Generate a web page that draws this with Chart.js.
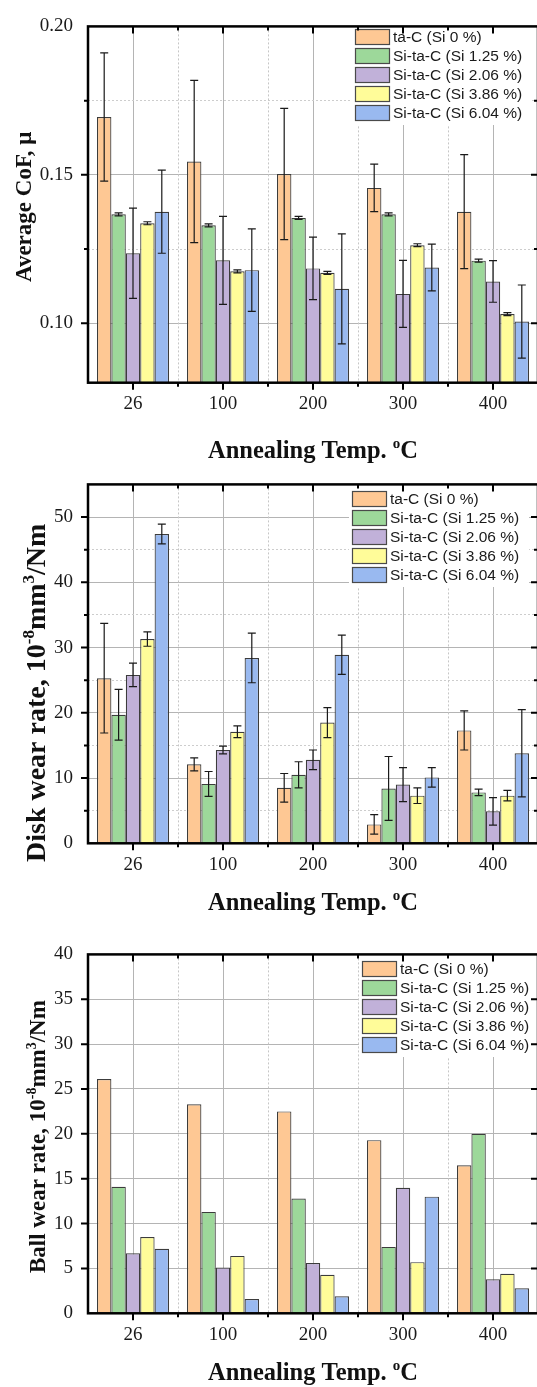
<!DOCTYPE html>
<html>
<head>
<meta charset="utf-8">
<script src="https://cdn.jsdelivr.net/npm/chart.js@4.4.1/dist/chart.umd.min.js"></script>
<style>
html, body { margin: 0; padding: 0; background: #fff; overflow: hidden; width: 537px; height: 1387px; }
canvas { position: absolute; left: 0; }
</style>
</head>
<body>
<canvas id="cof" width="545" height="468" style="top:0px"></canvas>
<canvas id="disk" width="545" height="462" style="top:458px"></canvas>
<canvas id="ball" width="545" height="459" style="top:928px"></canvas>
<script>
// annealing temperatures (x categories)
const temps = ['26', '100', '200', '300', '400'];
const seriesNames = ['ta-C (Si 0 %)', 'Si-ta-C (Si 1.25 %)', 'Si-ta-C (Si 2.06 %)', 'Si-ta-C (Si 3.86 %)', 'Si-ta-C (Si 6.04 %)'];
const colors = ['#FEC894', '#9DD89A', '#C1B1D9', '#FFFC99', '#99B9F0'];

// average CoF
const cofSi0 = [0.1695, 0.1545, 0.1503, 0.1456, 0.1376];
const cofSi125 = [0.1367, 0.1330, 0.1355, 0.1367, 0.1211];
const cofSi206 = [0.1236, 0.1212, 0.1185, 0.1099, 0.1141];
const cofSi386 = [0.1337, 0.1175, 0.1170, 0.1263, 0.1031];
const cofSi604 = [0.1376, 0.1179, 0.1116, 0.1188, 0.1006];
const cofErrSi0 = [0.0216, 0.0273, 0.0221, 0.0080, 0.0192];
const cofErrSi125 = [0.0005, 0.0005, 0.0005, 0.0005, 0.0005];
const cofErrSi206 = [0.0152, 0.0148, 0.0105, 0.0113, 0.0070];
const cofErrSi386 = [0.0005, 0.0005, 0.0005, 0.0005, 0.0005];
const cofErrSi604 = [0.0140, 0.0139, 0.0185, 0.0079, 0.0123];

// disk wear rate
const diskSi0 = [25.3, 12.1, 8.5, 2.9, 17.3];
const diskSi125 = [19.7, 9.1, 10.5, 8.4, 7.8];
const diskSi206 = [25.8, 14.3, 12.8, 9.0, 4.9];
const diskSi386 = [31.3, 17.1, 18.5, 7.3, 7.3];
const diskSi604 = [47.4, 28.4, 28.9, 10.1, 13.8];
const diskErrSi0 = [8.4, 1.0, 2.2, 1.5, 3.0];
const diskErrSi125 = [3.9, 1.9, 2.0, 4.9, 0.5];
const diskErrSi206 = [1.8, 0.6, 1.5, 2.6, 2.1];
const diskErrSi386 = [1.1, 0.9, 2.3, 1.2, 0.8];
const diskErrSi604 = [1.5, 3.8, 3.0, 1.5, 6.7];

// ball wear rate
const ballSi0 = [26.1, 23.3, 22.5, 19.3, 16.5];
const ballSi125 = [14.1, 11.3, 12.8, 7.4, 20.0];
const ballSi206 = [6.7, 5.1, 5.6, 14.0, 3.8];
const ballSi386 = [8.5, 6.4, 4.3, 5.7, 4.4];
const ballSi604 = [7.2, 1.6, 1.9, 13.0, 2.8];

const serif = '"Liberation Serif", "Times New Roman", serif';
const sans = '"Liberation Sans", Arial, sans-serif';

function isMult(v, step) {
  const r = v / step;
  return Math.abs(r - Math.round(r)) < 1e-6;
}

// rich text: parts = [[text, isSuperscript]]
function drawRich(ctx, parts, size, x, y, rotate, align) {
  ctx.save();
  ctx.translate(x, y);
  if (rotate) ctx.rotate(-Math.PI / 2);
  ctx.textBaseline = 'alphabetic';
  ctx.textAlign = 'left';
  ctx.fillStyle = '#111';
  let total = 0;
  const ws = parts.map(p => {
    ctx.font = 'bold ' + (p[1] ? Math.round(size * 0.62) : size) + 'px ' + serif;
    const w = ctx.measureText(p[0]).width;
    total += w;
    return w;
  });
  let cx = align == 'center' ? -total / 2 : 0;
  parts.forEach((p, i) => {
    ctx.font = 'bold ' + (p[1] ? Math.round(size * 0.62) : size) + 'px ' + serif;
    ctx.fillText(p[0], cx, p[1] ? -size * 0.4 : 0);
    cx += ws[i];
  });
  ctx.restore();
}

const deco = {
  id: 'deco',
  beforeDatasetsDraw(chart, args, o) {
    const ctx = chart.ctx, a = chart.chartArea, xs = chart.scales.x;
    ctx.save();
    ctx.strokeStyle = '#c6c6c6';
    ctx.lineWidth = 1;
    ctx.setLineDash([2, 2]);
    for (let i = 0; i < temps.length - 1; i++) {
      const px = Math.round((xs.getPixelForValue(i) + xs.getPixelForValue(i + 1)) / 2) + 0.5;
      ctx.beginPath();
      ctx.moveTo(px, a.top);
      ctx.lineTo(px, a.bottom);
      ctx.stroke();
    }
    ctx.restore();
  },
  afterDatasetsDraw(chart, args, o) {
    const ctx = chart.ctx, a = chart.chartArea, xs = chart.scales.x, ys = chart.scales.y;
    // error bars
    if (o.errs) {
      ctx.save();
      ctx.strokeStyle = '#1a1a1a';
      ctx.lineWidth = 1.2;
      o.errs.forEach((err, i) => {
        const meta = chart.getDatasetMeta(i);
        meta.data.forEach((bar, j) => {
          const v = chart.data.datasets[i].data[j];
          const y1 = ys.getPixelForValue(v + err[j]);
          const y2 = ys.getPixelForValue(v - err[j]);
          ctx.beginPath();
          ctx.moveTo(bar.x, y1); ctx.lineTo(bar.x, y2);
          ctx.moveTo(bar.x - 4, y1); ctx.lineTo(bar.x + 4, y1);
          ctx.moveTo(bar.x - 4, y2); ctx.lineTo(bar.x + 4, y2);
          ctx.stroke();
        });
      });
      ctx.restore();
    }
    // legend inside the plot
    const lg = o.legend;
    ctx.save();
    ctx.fillStyle = '#fff';
    ctx.fillRect(lg.box[0], lg.box[1], lg.box[2], lg.box[3]);
    ctx.font = '15.5px ' + sans;
    ctx.textBaseline = 'middle';
    chart.data.datasets.forEach((ds, i) => {
      const top = lg.y + i * 19;
      ctx.fillStyle = ds.backgroundColor;
      ctx.fillRect(lg.x, top, 35, 16);
      ctx.strokeStyle = '#4a4a4a';
      ctx.lineWidth = 1.2;
      ctx.strokeRect(lg.x + 0.5, top + 0.5, 34, 15);
      ctx.fillStyle = '#1a1a1a';
      ctx.fillText(ds.label, lg.textX, top + 9);
    });
    ctx.restore();
    // frame and ticks
    ctx.save();
    ctx.strokeStyle = '#000';
    ctx.lineWidth = 2;
    ys.ticks.forEach(t => {
      if (t.value <= ys.min || t.value >= ys.max) return;
      const py = ys.getPixelForValue(t.value);
      const len = isMult(t.value, o.major) ? 7 : 4;
      ctx.beginPath();
      ctx.moveTo(a.left - len, py); ctx.lineTo(a.left, py);
      ctx.moveTo(a.right - len, py); ctx.lineTo(a.right, py);
      ctx.stroke();
    });
    for (let i = 0; i < temps.length; i++) {
      const px = xs.getPixelForValue(i);
      ctx.beginPath();
      ctx.moveTo(px, a.bottom); ctx.lineTo(px, a.bottom + 7);
      ctx.moveTo(px, a.top); ctx.lineTo(px, a.top + 7);
      if (i < temps.length - 1) {
        const pb = (px + xs.getPixelForValue(i + 1)) / 2;
        ctx.moveTo(pb, a.bottom); ctx.lineTo(pb, a.bottom + 4);
        ctx.moveTo(pb, a.top); ctx.lineTo(pb, a.top + 4);
      }
      ctx.stroke();
    }
    ctx.lineWidth = 2.5;
    ctx.strokeRect(a.left, a.top, a.right - a.left, a.bottom - a.top);
    ctx.restore();
    // axis titles
    drawRich(ctx, o.ytitle, o.ysize, o.yx, o.yy, true, 'left');
    drawRich(ctx, [['Annealing Temp. '], ['o', 1], ['C']], 24.5, (a.left + a.right) / 2, o.xy, false, 'center');
  }
};

function makeChart(id, means, errs, yMin, yMax, step, major, digits, d) {
  const el = document.getElementById(id);
  return new Chart(el, {
    type: 'bar',
    data: {
      labels: temps,
      datasets: means.map((m, i) => ({
        label: seriesNames[i],
        data: m,
        backgroundColor: colors[i],
        borderColor: '#3c3c3c',
        borderWidth: 1.2,
        categoryPercentage: 0.8,
        barPercentage: 1.0
      }))
    },
    options: {
      responsive: false,
      animation: false,
      devicePixelRatio: 1,
      layout: { padding: { left: 0, right: el.width - 538, top: d.top, bottom: 0 } },
      plugins: {
        legend: { display: false },
        tooltip: { enabled: false },
        deco: Object.assign({ errs: errs, major: major }, d)
      },
      scales: {
        x: {
          grid: { offset: false, color: '#b4b4b4', lineWidth: 1, drawTicks: false },
          border: { display: false },
          ticks: { padding: 10, color: '#1a1a1a', font: { family: serif, size: 19 } },
          afterFit: s => { s.height = el.height - d.bottom; }
        },
        y: {
          min: yMin,
          max: yMax,
          grid: {
            drawTicks: false,
            lineWidth: 1,
            color: c => {
              const v = c.tick ? c.tick.value : 0;
              if (v <= yMin || v >= yMax) return 'rgba(0,0,0,0)';
              return isMult(v, major) ? '#b4b4b4' : '#cdcdcd';
            }
          },
          border: {
            display: false,
            dash: c => (c.tick && !isMult(c.tick.value, major)) ? [2, 2] : []
          },
          ticks: {
            stepSize: step,
            padding: 15,
            color: '#1a1a1a',
            font: { family: serif, size: 19 },
            callback: v => (isMult(v, major) && (v > yMin + 1e-9 || yMin == 0)) ? v.toFixed(digits) : ''
          },
          afterFit: s => { s.width = 88; }
        }
      }
    },
    plugins: [deco]
  });
}

makeChart('cof',
  [cofSi0, cofSi125, cofSi206, cofSi386, cofSi604],
  [cofErrSi0, cofErrSi125, cofErrSi206, cofErrSi386, cofErrSi604],
  0.08, 0.20, 0.025, 0.05, 2,
  { top: 21.7, bottom: 382.7, legend: { x: 355, y: 29, textX: 393, box: [352, 26, 178, 99] },
    ytitle: [['Average CoF, μ']], ysize: 23, yx: 31, yy: 282, xy: 458 });

makeChart('disk',
  [diskSi0, diskSi125, diskSi206, diskSi386, diskSi604],
  [diskErrSi0, diskErrSi125, diskErrSi206, diskErrSi386, diskErrSi604],
  0, 55, 5, 10, 0,
  { top: 21.3, bottom: 385.3, legend: { x: 352, y: 33, textX: 390, box: [349, 30, 180, 99] },
    ytitle: [['Disk wear rate, 10'], ['-8', 1], ['mm'], ['3', 1], ['/Nm']], ysize: 28, yx: 45, yy: 404, xy: 452 });

makeChart('ball',
  [ballSi0, ballSi125, ballSi206, ballSi386, ballSi604],
  null,
  0, 40, 2.5, 5, 0,
  { top: 24, bottom: 385.3, legend: { x: 362, y: 33, textX: 400, box: [359, 30, 172, 99] },
    ytitle: [['Ball wear rate, 10'], ['-8', 1], ['mm'], ['3', 1], ['/Nm']], ysize: 23, yx: 45, yy: 345, xy: 452 });
</script>
</body>
</html>
